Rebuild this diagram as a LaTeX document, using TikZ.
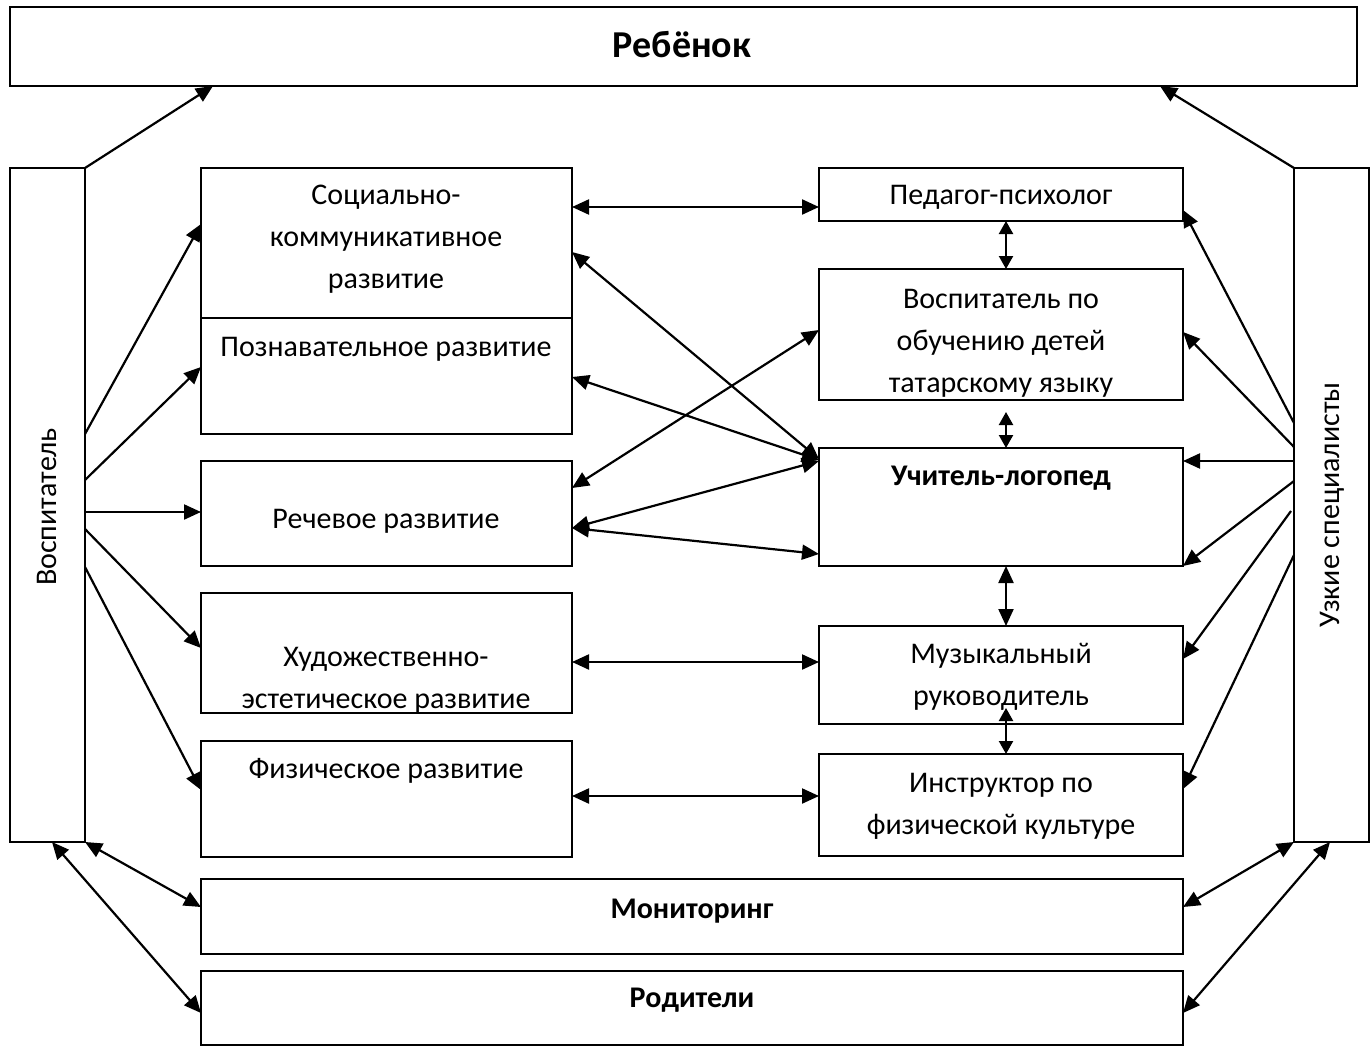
\documentclass[tikz,border=0pt]{standalone}
\usepackage{fontspec}
\setmainfont{Carlito}
\usetikzlibrary{arrows.meta,calc}
\begin{document}
\begin{tikzpicture}[x=1pt,y=-1pt,
  box/.style={draw, line width=2pt, anchor=north west, inner sep=0pt, outer sep=0pt},
  txt/.style={align=center, font=\fontsize{30}{42}\selectfont, inner sep=0pt},
  btxt/.style={align=center, font=\fontsize{30}{42}\selectfont\bfseries, inner sep=0pt},
  arr/.style={line width=2.2pt, -{Triangle[length=17pt,width=15pt]}},
  darr/.style={line width=2.2pt, {Triangle[length=17pt,width=15pt]}-{Triangle[length=17pt,width=15pt]}},
  sdarr/.style={line width=2.2pt, {Triangle[length=13pt,width=14pt]}-{Triangle[length=13pt,width=14pt]}},
]
\useasboundingbox (0,0) rectangle (1371,1046);
\fill[white] (0,0) rectangle (1371,1046);

% boxes
\node[box, minimum width=1347pt, minimum height=79pt] (reb) at (10,7) {};
\node[box, minimum width=75pt, minimum height=674pt] (vos) at (10,168) {};
\node[box, minimum width=75pt, minimum height=674pt] (uzk) at (1294,168) {};
\node[box, minimum width=371pt, minimum height=150pt] (soc) at (201,168) {};
\node[box, minimum width=371pt, minimum height=116pt] (poz) at (201,318) {};
\node[box, minimum width=371pt, minimum height=105pt] (rech) at (201,461) {};
\node[box, minimum width=371pt, minimum height=120pt] (hud) at (201,593) {};
\node[box, minimum width=371pt, minimum height=116pt] (fiz) at (201,741) {};
\node[box, minimum width=364pt, minimum height=53pt] (ped) at (819,168) {};
\node[box, minimum width=364pt, minimum height=131pt] (vpo) at (819,269) {};
\node[box, minimum width=364pt, minimum height=118pt] (uch) at (819,448) {};
\node[box, minimum width=364pt, minimum height=98pt] (muz) at (819,626) {};
\node[box, minimum width=364pt, minimum height=102pt] (ins) at (819,754) {};
\node[box, minimum width=982pt, minimum height=75pt] (mon) at (201,879) {};
\node[box, minimum width=982pt, minimum height=74pt] (rod) at (201,971) {};

% texts
\node[btxt, font=\fontsize{38}{42}\selectfont\bfseries] (rebT) at (682,45) {Ребёнок};
\node[txt, rotate=90] (vosT) at (47,507) {Воспитатель};
\node[txt, rotate=90] (uzkT) at (1332,505) {Узкие специалисты};
\node[txt] (socT) at (386,239) {Социально-\\коммуникативное\\развитие};
\node[txt] (pozT) at (386,349) {Познавательное развитие};
\node[txt] (rechT) at (386,521) {Речевое развитие};
\begin{scope}
\clip (hud.north west) rectangle (hud.south east);
\node[txt] (hudT) at (386,680) {Художественно-\\эстетическое развитие};
\end{scope}
\node[txt] (fizT) at (386,771) {Физическое развитие};
\node[txt] (pedT) at (1001,197) {Педагог-психолог};
\begin{scope}
\clip (vpo.north west) rectangle (vpo.south east);
\node[txt] (vpoT) at (1001,343) {Воспитатель по\\обучению детей\\татарскому языку};
\end{scope}
\node[btxt] (uchT) at (1001,478) {Учитель-логопед};
\node[txt] (muzT) at (1001,677) {Музыкальный\\руководитель};
\node[txt] (insT) at (1001,806) {Инструктор по\\физической культуре};
\node[btxt] (monT) at (692,911) {Мониторинг};
\node[btxt] (rodT) at (692,1000) {Родители};

% arrows to child
\draw[arr] (vos.north east) -- (reb.south -| 213,0);
\draw[arr] (uzk.north west) -- (reb.south -| 1160,0);

% from Воспитатель
\draw[arr] (vos.east |- 0,434) -- (soc.west |- 0,224);
\draw[arr] (vos.east |- 0,480) -- (poz.west |- 0,367);
\draw[arr] (vos.east |- 0,512) -- (rech.west |- 0,512);
\draw[arr] (vos.east |- 0,529) -- (hud.west |- 0,648);
\draw[arr] (vos.east |- 0,567) -- (fiz.west |- 0,790);

% from Узкие специалисты
\draw[arr] (uzk.west |- 0,423) -- (ped.east |- 0,210);
\draw[arr] (uzk.west |- 0,447) -- (vpo.east |- 0,332);
\draw[arr] (uzk.west |- 0,461) -- (uch.east |- 0,461);
\draw[arr] (uzk.west |- 0,481) -- (uch.south east);
\draw[arr] ($(uzk.west |- 0,511)+(-3,0)$) -- (muz.east |- 0,659);
\draw[arr] (uzk.west |- 0,555) -- (ins.east |- 0,789);

% middle links
\draw[darr] (soc.east |- 0,207) -- (ped.west |- 0,207);
\draw[darr] (soc.east |- 0,252) -- (uch.west |- 0,459);
\draw[darr] (poz.east |- 0,377) -- (uch.west |- 0,460);
\draw[darr] (rech.east |- 0,488) -- (vpo.west |- 0,330);
\draw[darr] (rech.east |- 0,528) -- (uch.west |- 0,461);
\draw[darr] (rech.east |- 0,528) -- (uch.west |- 0,554);
\draw[darr] (hud.east |- 0,662) -- (muz.west |- 0,662);
\draw[darr] (fiz.east |- 0,796) -- (ins.west |- 0,796);

% vertical links
\draw[sdarr] (ped.south -| 1006,0) -- (vpo.north -| 1006,0);
\draw[sdarr] ($(vpo.south -| 1006,0)+(0,12)$) -- (uch.north -| 1006,0);
\draw[darr] (uch.south -| 1006,0) -- (muz.north -| 1006,0);
\draw[sdarr] ($(muz.south -| 1006,0)+(0,-16)$) -- (ins.north -| 1006,0);

% bottom links
\draw[darr] (vos.south east) -- (mon.west |- 0,907);
\draw[darr] (vos.south -| 52,0) -- (rod.west |- 0,1013);
\draw[darr] (uzk.south west) -- (mon.east |- 0,907);
\draw[darr] (uzk.south -| 1330,0) -- (rod.east |- 0,1013);
\end{tikzpicture}
\end{document}
